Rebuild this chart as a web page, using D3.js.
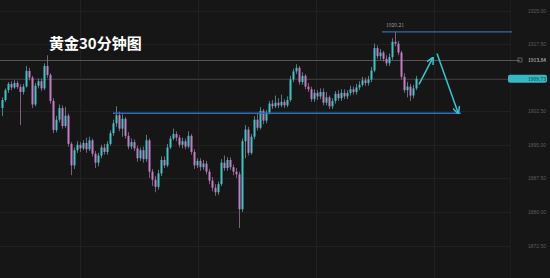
<!DOCTYPE html>
<html>
<head>
<meta charset="utf-8">
<title>黄金30分钟图</title>
<script src="https://d3js.org/d3.v7.min.js"></script>
<style>
  html, body { margin: 0; padding: 0; background: #161616; }
  #chart { width: 550px; height: 278px; }
</style>
</head>
<body>
<div id="chart"></div>
<script>

// candles as [open, high, low, close], one every 30 minutes
var candles = [
  [1903.2,1905.6,1901.4,1905.0],[1905.0,1907.6,1904.6,1907.2],[1907.2,1909.0,1906.6,1908.6],[1908.6,1909.2,1907.2,1907.8],
  [1907.8,1909.4,1907.5,1908.8],[1908.8,1909.3,1907.5,1907.9],[1907.9,1908.5,1899.4,1906.8],[1906.8,1908.6,1906.2,1908.0],
  [1908.0,1912.6,1907.8,1911.5],[1911.5,1912.2,1909.4,1910.0],[1910.0,1910.4,1903.2,1904.0],[1904.0,1908.8,1903.6,1908.2],
  [1908.2,1909.8,1907.6,1909.2],[1909.2,1909.8,1907.0,1907.6],[1907.6,1913.2,1907.2,1912.6],[1912.6,1915.0,1910.0,1910.6],
  [1910.6,1911.0,1904.2,1904.8],[1904.8,1905.4,1897.6,1898.3],[1898.3,1901.5,1897.8,1900.6],[1900.6,1904.0,1900.0,1903.2],
  [1903.2,1903.8,1898.6,1899.2],[1899.2,1903.4,1898.8,1901.5],[1901.5,1902.0,1894.6,1895.2],[1895.2,1895.6,1888.2,1890.4],
  [1890.4,1894.4,1889.6,1893.8],[1893.8,1895.8,1893.2,1895.0],[1895.0,1895.6,1893.4,1894.2],[1894.2,1896.0,1893.8,1895.4],
  [1895.4,1896.6,1893.2,1894.0],[1894.0,1896.8,1893.6,1896.0],[1896.0,1896.4,1892.4,1893.0],[1893.0,1893.6,1889.8,1891.0],
  [1891.0,1893.2,1890.2,1892.6],[1892.6,1895.0,1892.0,1894.4],[1894.4,1895.2,1892.8,1893.4],[1893.4,1895.8,1892.8,1895.2],
  [1895.2,1898.2,1894.8,1897.6],[1897.6,1900.6,1897.0,1899.8],[1899.8,1903.6,1899.0,1901.6],[1901.6,1902.4,1898.0,1898.6],
  [1898.6,1901.8,1896.8,1900.8],[1900.8,1901.2,1896.4,1897.0],[1897.0,1897.8,1894.0,1894.6],[1894.6,1896.4,1894.0,1895.6],
  [1895.6,1896.2,1893.6,1894.2],[1894.2,1894.8,1891.2,1892.0],[1892.0,1894.4,1891.4,1893.8],[1893.8,1894.6,1891.0,1891.8],
  [1891.8,1897.2,1891.2,1896.0],[1896.0,1896.4,1887.6,1889.0],[1889.0,1889.6,1885.8,1887.2],[1887.2,1888.0,1884.4,1885.6],
  [1885.6,1889.4,1885.0,1888.6],[1888.6,1892.4,1888.0,1891.6],[1891.6,1892.4,1889.8,1890.4],[1890.4,1895.2,1890.0,1894.4],
  [1894.4,1897.0,1894.0,1896.4],[1896.4,1898.6,1896.0,1897.4],[1897.4,1898.0,1895.8,1896.6],[1896.6,1897.2,1894.4,1895.0],
  [1895.0,1896.6,1894.2,1895.8],[1895.8,1896.4,1894.0,1894.6],[1894.6,1898.0,1894.2,1897.0],[1897.0,1897.4,1892.8,1893.4],
  [1893.4,1894.0,1889.6,1890.4],[1890.4,1892.0,1889.8,1891.4],[1891.4,1892.0,1889.2,1890.0],[1890.0,1891.6,1889.4,1890.8],
  [1890.8,1891.4,1888.4,1889.0],[1889.0,1889.6,1886.2,1887.0],[1887.0,1887.8,1884.6,1885.4],[1885.4,1886.2,1883.6,1884.4],
  [1884.4,1886.8,1883.8,1886.2],[1886.2,1891.8,1885.8,1891.0],[1891.0,1892.6,1889.2,1889.8],[1889.8,1892.2,1889.2,1891.6],
  [1891.6,1892.2,1889.4,1890.0],[1890.0,1890.6,1888.2,1889.0],[1889.0,1889.8,1887.6,1888.4],[1888.4,1889.0,1876.4,1880.6],
  [1880.6,1896.4,1880.0,1895.8],[1895.8,1899.4,1892.0,1898.4],[1898.4,1899.0,1892.6,1893.2],[1893.2,1897.4,1892.8,1896.8],
  [1896.8,1901.4,1896.2,1900.6],[1900.6,1902.0,1898.2,1898.8],[1898.8,1903.4,1898.4,1902.6],[1902.6,1903.0,1899.6,1900.4],
  [1900.4,1902.8,1899.8,1902.2],[1902.2,1904.8,1901.8,1904.2],[1904.2,1905.0,1903.0,1903.6],[1903.6,1906.0,1903.2,1904.4],
  [1904.4,1905.4,1903.2,1903.8],[1903.8,1906.2,1903.4,1904.6],[1904.6,1905.2,1903.2,1903.8],[1903.8,1905.8,1903.4,1905.0],
  [1905.0,1910.4,1904.6,1909.6],[1909.6,1912.0,1909.0,1911.4],[1911.4,1913.0,1910.8,1912.2],[1912.2,1912.6,1908.4,1909.0],
  [1909.0,1911.2,1908.4,1910.4],[1910.4,1910.8,1907.4,1908.0],[1908.0,1908.8,1906.8,1907.4],[1907.4,1908.0,1904.6,1905.2],
  [1905.2,1907.4,1904.6,1906.6],[1906.6,1907.2,1905.0,1905.8],[1905.8,1907.6,1905.2,1906.8],[1906.8,1907.6,1903.8,1904.4],
  [1904.4,1906.8,1903.8,1905.6],[1905.6,1906.0,1903.0,1903.6],[1903.6,1905.4,1903.0,1904.8],[1904.8,1907.0,1904.2,1906.4],
  [1906.4,1907.2,1904.8,1905.4],[1905.4,1907.4,1904.8,1906.6],[1906.6,1907.4,1905.2,1905.8],[1905.8,1907.2,1905.2,1906.6],
  [1906.6,1908.2,1906.0,1907.4],[1907.4,1908.0,1906.2,1906.8],[1906.8,1908.6,1906.2,1907.8],[1907.8,1909.2,1907.2,1908.4],
  [1908.4,1910.2,1908.0,1909.4],[1909.4,1910.0,1908.2,1908.8],[1908.8,1910.4,1908.2,1909.6],[1909.6,1912.4,1909.0,1911.6],
  [1911.6,1917.6,1911.2,1916.6],[1916.6,1917.2,1914.2,1914.8],[1914.8,1916.4,1914.0,1915.6],[1915.6,1916.0,1913.6,1914.2],
  [1914.2,1915.0,1912.6,1913.2],[1913.2,1915.4,1912.6,1914.6],[1914.6,1918.8,1914.0,1918.0],[1918.0,1920.2,1917.0,1917.6],
  [1917.6,1918.2,1915.0,1915.6],[1915.6,1916.0,1909.6,1910.2],[1910.2,1911.0,1906.6,1907.2],[1907.2,1909.0,1905.6,1908.0],
  [1908.0,1908.6,1904.8,1906.0],[1906.0,1908.4,1905.4,1907.6],[1907.6,1910.4,1907.2,1909.73]
];

var priceTicks = [1925, 1917.5, 1910, 1902.5, 1895, 1887.5, 1880, 1872.5];
var highLevel = 1920.21;      // recent high, upper blue line
var supportLevel = 1902.05;   // lower blue line
var markLevel = 1913.84;      // grey marked level
var lastPrice = 1909.73;      // current price

// projected path drawn as arrows: [candle index, price]
var arrowUp = [[139, 1908.5], [143.5, 1914.3]];
var arrowDown = [[145, 1915.4], [152, 1902.2]];

var width = 550, height = 278;

var svg = d3.select('#chart').append('svg')
  .attr('width', width)
  .attr('height', height)
  .style('font-family', '"Noto Sans CJK SC", "Noto Sans", sans-serif');

svg.append('rect').attr('width', width).attr('height', height).attr('fill', '#161616');

var y = d3.scaleLinear().domain([1872.5, 1925]).range([245.5, 10.5]);
var x = d3.scaleLinear().domain([0, candles.length - 1]).range([2, 416]);

// grid
var grid = svg.append('g');
grid.selectAll('line.h')
  .data(priceTicks)
  .enter().append('line')
    .attr('x1', 0).attr('x2', 510)
    .attr('y1', function (d) { return Math.round(y(d)) + 0.5; })
    .attr('y2', function (d) { return Math.round(y(d)) + 0.5; })
    .attr('stroke', '#212121');
grid.selectAll('line.v')
  .data([80, 198, 316, 434])
  .enter().append('line')
    .attr('x1', function (d) { return d + 0.5; })
    .attr('x2', function (d) { return d + 0.5; })
    .attr('y1', 0).attr('y2', height)
    .attr('stroke', '#212121');
grid.append('line')
  .attr('x1', 510.5).attr('x2', 510.5).attr('y1', 0).attr('y2', height)
  .attr('stroke', '#1e1e1e');

// right axis
var axis = svg.append('g')
  .attr('transform', 'translate(512,0)')
  .call(d3.axisRight(y).tickValues(priceTicks).tickSize(0).tickPadding(16)
    .tickFormat(function (d) { return d.toFixed(2); }));
axis.select('.domain').remove();
axis.selectAll('text').attr('fill', '#5c5c5c').style('font-size', '5px');

// marked level and last price lines
svg.append('line')
  .attr('x1', 0).attr('x2', 520)
  .attr('y1', Math.round(y(markLevel)) + 0.5).attr('y2', Math.round(y(markLevel)) + 0.5)
  .attr('stroke', '#555555');
svg.append('line')
  .attr('x1', 0).attr('x2', 508)
  .attr('y1', Math.round(y(lastPrice)) + 0.5).attr('y2', Math.round(y(lastPrice)) + 0.5)
  .attr('stroke', '#383838');

// candles
var upColor = '#3fc3c6', downColor = '#c87ac4';
var g = svg.append('g');
g.selectAll('line.wick')
  .data(candles)
  .enter().append('line')
    .attr('x1', function (d, i) { return Math.round(x(i)) + 0.5; })
    .attr('x2', function (d, i) { return Math.round(x(i)) + 0.5; })
    .attr('y1', function (d) { return y(d[1]); })
    .attr('y2', function (d) { return y(d[2]); })
    .attr('stroke', function (d) { return d[3] >= d[0] ? '#5a9ea0' : '#9a7098'; })
    .attr('stroke-width', 0.8);
g.selectAll('rect.body')
  .data(candles)
  .enter().append('rect')
    .attr('x', function (d, i) { return Math.round(x(i)) - 0.5; })
    .attr('width', 2)
    .attr('y', function (d) { return y(Math.max(d[0], d[3])); })
    .attr('height', function (d) { return Math.max(1, Math.abs(y(d[0]) - y(d[3]))); })
    .attr('fill', function (d) { return d[3] >= d[0] ? upColor : downColor; });

// blue levels
svg.append('line')
  .attr('x1', 382).attr('x2', 512)
  .attr('y1', y(highLevel)).attr('y2', y(highLevel))
  .attr('stroke', '#2f6db5').attr('stroke-width', 1.3);
svg.append('line')
  .attr('x1', 113).attr('x2', 461)
  .attr('y1', y(supportLevel)).attr('y2', y(supportLevel))
  .attr('stroke', '#2f6db5').attr('stroke-width', 1.3);

// high label
svg.append('text')
  .attr('x', x(131)).attr('y', y(highLevel) - 5)
  .attr('text-anchor', 'middle')
  .attr('fill', '#9a9a9a').style('font-size', '5px')
  .text(highLevel.toFixed(2));

// arrows
var defs = svg.append('defs');
defs.append('marker')
  .attr('id', 'head')
  .attr('viewBox', '0 0 10 10')
  .attr('refX', 8).attr('refY', 5)
  .attr('markerWidth', 5).attr('markerHeight', 5)
  .attr('orient', 'auto')
  .append('path')
    .attr('d', 'M0,0 L10,5 L0,10')
    .attr('fill', 'none')
    .attr('stroke', '#37c6d4')
    .attr('stroke-width', 2);

var line = d3.line()
  .x(function (d) { return x(d[0]); })
  .y(function (d) { return y(d[1]); });

[arrowUp, arrowDown].forEach(function (pts) {
  svg.append('path')
    .attr('d', line(pts))
    .attr('fill', 'none')
    .attr('stroke', '#37c6d4')
    .attr('stroke-width', 1.5)
    .attr('marker-end', 'url(#head)');
});

// price tags on the axis
svg.append('rect')
  .attr('x', 518).attr('y', y(markLevel) - 2.5)
  .attr('width', 4).attr('height', 4)
  .attr('fill', 'none').attr('stroke', '#888').attr('stroke-width', 0.6);
svg.append('text')
  .attr('x', 528).attr('y', y(markLevel) + 1.8)
  .attr('fill', '#d8d8d8').style('font-size', '5px')
  .text(markLevel.toFixed(2));

svg.append('rect')
  .attr('x', 508).attr('y', y(lastPrice) - 4)
  .attr('width', 39).attr('height', 8).attr('rx', 2)
  .attr('fill', '#36b9c4');
svg.append('text')
  .attr('x', 528).attr('y', y(lastPrice) + 1.8)
  .attr('fill', '#10383c').style('font-size', '5px')
  .text(lastPrice.toFixed(2));

// title
svg.append('text')
  .attr('x', 49).attr('y', 49)
  .attr('fill', '#ffffff')
  .style('font-size', '15px')
  .style('font-weight', 'bold')
  .text('黄金30分钟图');

</script>
</body>
</html>
